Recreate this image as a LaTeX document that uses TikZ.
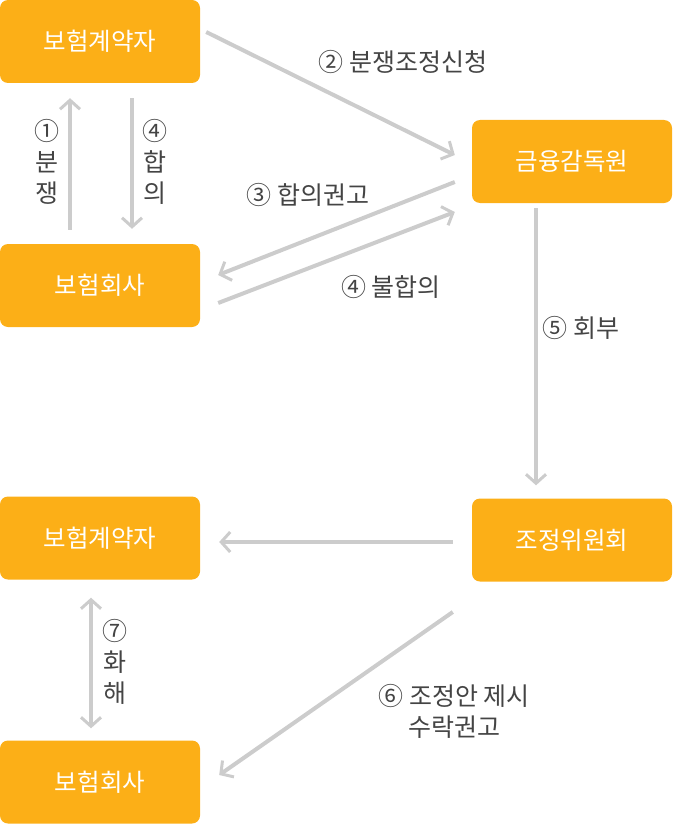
\documentclass[tikz,border=0pt]{standalone}
\usepackage{fontspec}
\setmainfont{Noto Sans CJK KR}
\usetikzlibrary{arrows.meta}
\definecolor{boxorange}{RGB}{252,175,23}
\definecolor{arrowgray}{RGB}{204,204,204}
\definecolor{labelgray}{RGB}{68,68,68}
\begin{document}
\begin{tikzpicture}[x=1pt, y=-1pt,
  box/.style={fill=boxorange, rounded corners=8pt, minimum width=200pt, minimum height=83pt, inner sep=0pt, text=white, font=\fontsize{24.5}{28}\selectfont},
  flow/.style={draw=arrowgray, line width=4pt, -{Straight Barb[length=9pt, width=20pt, line width=3pt]}},
  twoway/.style={flow, {Straight Barb[length=9pt, width=20pt, line width=3pt]}-{Straight Barb[length=9pt, width=20pt, line width=3pt]}},
  lbl/.style={text=labelgray, align=center, inner sep=0pt, font=\fontsize{25}{31}\selectfont}]

\useasboundingbox (0,0) rectangle (672,824);

\node [box] (holder) at (100,41.5) {보험계약자};
\node [box] (insurer) at (100,285.5) {보험회사};
\node [box] (fss) at (572,161.5) {금융감독원};
\node [box] (committee) at (572,540) {조정위원회};
\node [box] (holder2) at (100,538) {보험계약자};
\node [box] (insurer2) at (100,782) {보험회사};

\draw [flow] ([shift={(-30,-14)}]insurer.north) -- ([shift={(-30,15)}]holder.south);
\draw [flow] ([shift={(32,15)}]holder.south) -- ([shift={(32,-15)}]insurer.north);
\draw [flow] ([shift={(6,-9.5)}]holder.east) -- ([shift={(-17,-6.5)}]fss.west);
\draw [flow] ([shift={(-17,20.5)}]fss.west) -- ([shift={(18,-10.5)}]insurer.east);
\draw [flow] ([shift={(18,17.5)}]insurer.east) -- ([shift={(-17,50.5)}]fss.west);
\draw [flow] ([shift={(-36,5)}]fss.south) -- ([shift={(-36,-13)}]committee.north);
\draw [flow] ([shift={(-19,2)}]committee.west) -- ([shift={(19,4)}]holder2.east);
\draw [twoway] ([shift={(-9,18)}]holder2.south) -- ([shift={(-9,-12)}]insurer2.north);
\draw [flow] ([shift={(-19,72)}]committee.west) -- ([shift={(19,-7)}]insurer2.east);

\node [lbl] (dispute) at (47,162) {①\\분\\쟁};
\node [lbl] (agree) at (155,162) {④\\합\\의};
\node [lbl] (apply) at (403,62) {② 분쟁조정신청};
\node [lbl] (advise) at (308,195) {③ 합의권고};
\node [lbl] (disagree) at (391,287) {④ 불합의};
\node [lbl] (refer) at (581,328) {⑤ 회부};
\node [lbl] (settle) at (115,662) {⑦\\화\\해};
\node [lbl] (propose) at (454,711) {⑥ 조정안 제시\\수락권고};

\end{tikzpicture}
\end{document}
